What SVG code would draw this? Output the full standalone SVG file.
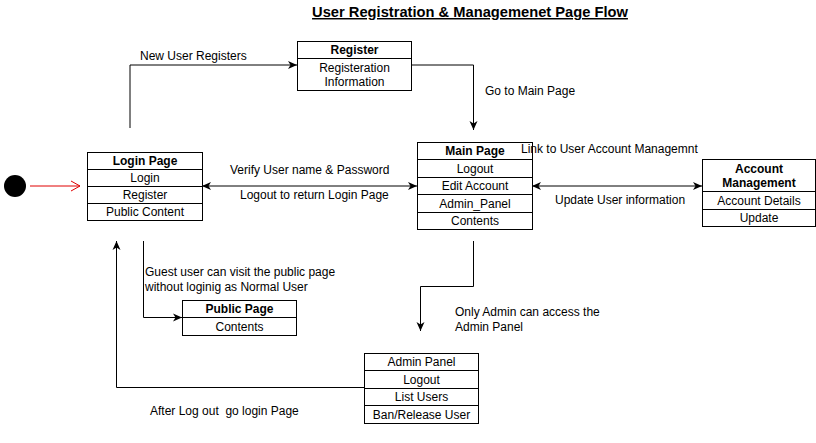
<svg xmlns="http://www.w3.org/2000/svg" width="816" height="443" viewBox="0 0 816 443">
<defs>
<marker id="arr" markerWidth="10" markerHeight="10" refX="9" refY="5" orient="auto" markerUnits="userSpaceOnUse">
<path d="M0,1 L9,5 L0,9 L2.5,5 z" fill="#000"/>
</marker>
<marker id="arrS" markerWidth="10" markerHeight="10" refX="0" refY="5" orient="auto" markerUnits="userSpaceOnUse">
<path d="M9,1 L0,5 L9,9 L6.5,5 z" fill="#000"/>
</marker>
<marker id="open" markerWidth="12" markerHeight="12" refX="10" refY="6" orient="auto" markerUnits="userSpaceOnUse">
<path d="M1,1 L10,6 L1,11" fill="none" stroke="#e00000" stroke-width="1"/>
</marker>
</defs>
<style>
text{font-family:"Liberation Sans",Arial,sans-serif;font-size:12px;fill:#000}
.b{font-weight:bold}
.c{text-anchor:middle}
.t{font-size:14.7px;font-weight:bold;text-decoration:underline}
.box{fill:#fff;stroke:#000;stroke-width:1}
.e{fill:none;stroke:#000;stroke-width:1}
</style>
<rect x="0" y="0" width="816" height="443" fill="#fff"/>
<text class="t c" x="470" y="17">User Registration &amp; Managemenet Page Flow</text>

<g id="start">
<circle cx="15" cy="186" r="11" fill="#000"/>
</g>

<g id="connectors">
<line x1="30" y1="186" x2="80" y2="186" stroke="#e00000" stroke-width="1" marker-end="url(#open)"/>
<path class="e" d="M130,128 V65 H297" marker-end="url(#arr)"/>
<path class="e" d="M409,65 H473.5 V130" marker-end="url(#arr)"/>
<line class="e" x1="202" y1="186" x2="417" y2="186" marker-start="url(#arrS)" marker-end="url(#arr)"/>
<line class="e" x1="532" y1="186" x2="702" y2="186" marker-start="url(#arrS)" marker-end="url(#arr)"/>
<path class="e" d="M143.5,241 V317.5 H182" marker-end="url(#arr)"/>
<path class="e" d="M473.5,241 V286.5 H420.5 V331" marker-end="url(#arr)"/>
<path class="e" d="M364,387.5 H116.5 V241" marker-end="url(#arr)"/>
</g>

<g id="labels">
<text x="140" y="60">New User Registers</text>
<text x="485" y="95">Go to Main Page</text>
<text x="230" y="174">Verify User name &amp; Password</text>
<text x="240" y="198.5">Logout to return Login Page</text>
<text x="555" y="204">Update User information</text>
<text x="145" y="276">Guest user can visit the public page</text>
<text x="145" y="291">without loginig as Normal User</text>
<text x="455" y="316">Only Admin can access the</text>
<text x="455" y="331">Admin Panel</text>
<text x="150" y="415" xml:space="preserve">After Log out  go login Page</text>
</g>

<g id="register">
<rect class="box" x="297.5" y="41.5" width="114" height="49"/>
<line class="e" x1="297.5" y1="58.5" x2="411.5" y2="58.5"/>
<text class="b c" x="354.5" y="54">Register</text>
<text class="c" x="354.5" y="72">Registeration</text>
<text class="c" x="354.5" y="86">Information</text>
</g>

<g id="login-page">
<rect class="box" x="87.5" y="152.5" width="115" height="68"/>
<line class="e" x1="87.5" y1="169.5" x2="202.5" y2="169.5"/>
<line class="e" x1="87.5" y1="186.5" x2="202.5" y2="186.5"/>
<line class="e" x1="87.5" y1="203.5" x2="202.5" y2="203.5"/>
<text class="b c" x="145" y="165">Login Page</text>
<text class="c" x="145" y="182">Login</text>
<text class="c" x="145" y="199">Register</text>
<text class="c" x="145" y="216">Public Content</text>
</g>

<g id="main-page">
<rect class="box" x="417.5" y="142.5" width="115" height="87"/>
<line class="e" x1="417.5" y1="159.5" x2="532.5" y2="159.5"/>
<line class="e" x1="417.5" y1="177.5" x2="532.5" y2="177.5"/>
<line class="e" x1="417.5" y1="194.5" x2="532.5" y2="194.5"/>
<line class="e" x1="417.5" y1="212.5" x2="532.5" y2="212.5"/>
<text class="b c" x="475" y="155">Main Page</text>
<text class="c" x="475" y="172.5">Logout</text>
<text class="c" x="475" y="190">Edit Account</text>
<text class="c" x="475" y="207.5">Admin_Panel</text>
<text class="c" x="475" y="225">Contents</text>
</g>
<text x="521" y="153">Link to User Account Managemnt</text>

<g id="account-management">
<rect class="box" x="702.5" y="159.5" width="113" height="67"/>
<line class="e" x1="702.5" y1="191.5" x2="815.5" y2="191.5"/>
<line class="e" x1="702.5" y1="209.5" x2="815.5" y2="209.5"/>
<text class="b c" x="759" y="173">Account</text>
<text class="b c" x="759" y="187">Management</text>
<text class="c" x="759" y="204.5">Account Details</text>
<text class="c" x="759" y="222">Update</text>
</g>

<g id="public-page">
<rect class="box" x="182.5" y="300.5" width="114" height="35"/>
<line class="e" x1="182.5" y1="317.5" x2="296.5" y2="317.5"/>
<text class="b c" x="239.5" y="313">Public Page</text>
<text class="c" x="239.5" y="330.5">Contents</text>
</g>

<g id="admin-panel">
<rect class="box" x="364.5" y="353.5" width="114" height="70"/>
<line class="e" x1="364.5" y1="370.5" x2="478.5" y2="370.5"/>
<line class="e" x1="364.5" y1="388.5" x2="478.5" y2="388.5"/>
<line class="e" x1="364.5" y1="405.5" x2="478.5" y2="405.5"/>
<text class="c" x="421.5" y="366">Admin Panel</text>
<text class="c" x="421.5" y="384">Logout</text>
<text class="c" x="421.5" y="401">List Users</text>
<text class="c" x="421.5" y="418.5">Ban/Release User</text>
</g>
</svg>
